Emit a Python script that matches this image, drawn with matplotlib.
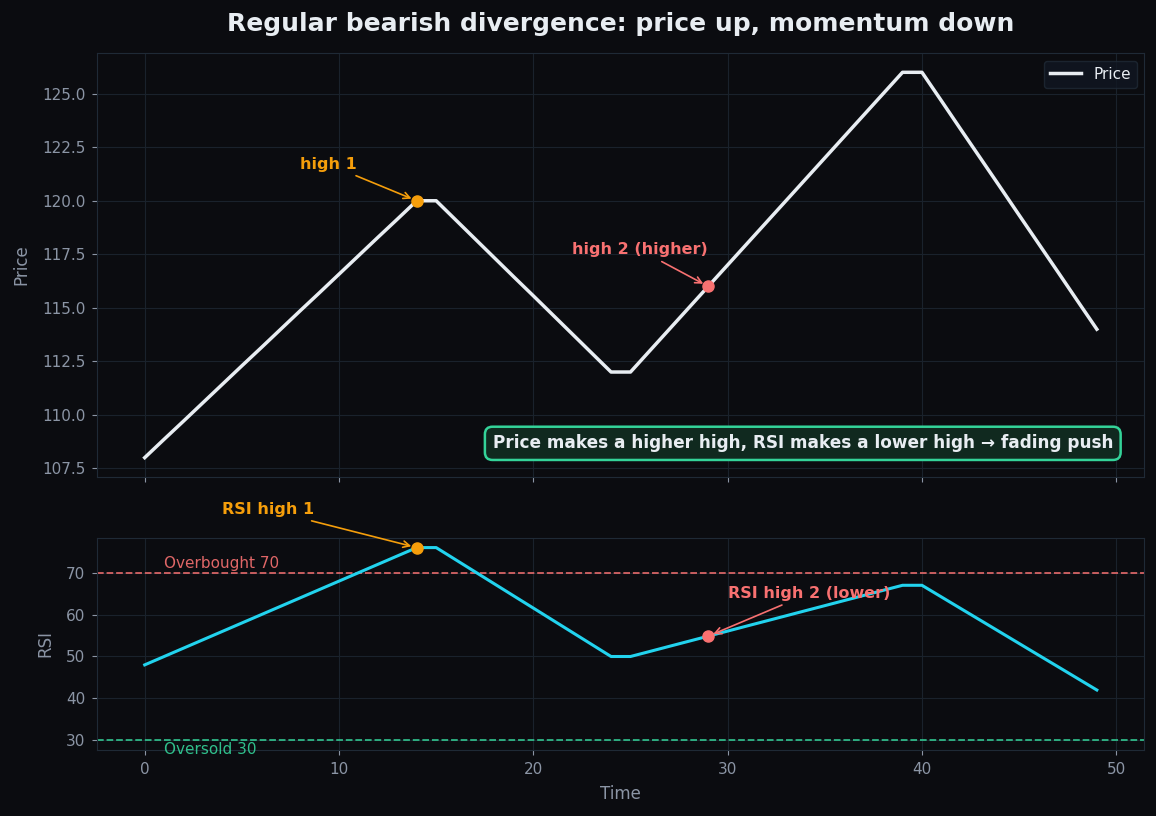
import numpy as np
import matplotlib
matplotlib.use("Agg")
from matplotlib import pyplot as plt

# data
time = list(range(50))
price = [108, 108.86, 109.71, 110.57, 111.43, 112.29, 113.14, 114, 114.86, 115.71,
         116.57, 117.43, 118.29, 119.14, 120, 120, 119.11, 118.22, 117.33, 116.44,
         115.56, 114.67, 113.78, 112.89, 112, 112, 113, 114, 115, 116,
         117, 118, 119, 120, 121, 122, 123, 124, 125, 126,
         126, 124.67, 123.33, 122, 120.67, 119.33, 118, 116.67, 115.33, 114]
rsi = [48, 50, 52, 54, 56, 58, 60, 62, 64, 66,
       68, 70, 72, 74, 76, 76, 73.11, 70.22, 67.33, 64.44,
       61.56, 58.67, 55.78, 52.89, 50, 50, 51.21, 52.43, 53.64, 54.86,
       56.07, 57.29, 58.5, 59.71, 60.93, 62.14, 63.36, 64.57, 65.79, 67,
       67, 64.22, 61.44, 58.67, 55.89, 53.11, 50.33, 47.56, 44.78, 42]
high1_idx = 14
high2_idx = 29
overbought = 70
oversold = 30

BG = "#0b0c10"
GRID = "#1a222c"
SPINE = "#1f2a36"
TXT = "#8b95a5"
WHITE = "#e8edf2"
ORANGE = "#f59e0b"
RED = "#f87171"
GREEN = "#34d399"
CYAN = "#22d3ee"

fig, (ax1, ax2) = plt.subplots(2, 1, figsize=(11.56, 8.16), dpi=100, sharex=True,
                               gridspec_kw={"height_ratios": [2, 1], "hspace": 0.192})
fig.patch.set_facecolor(BG)
fig.subplots_adjust(left=0.084, right=0.99, top=0.935, bottom=0.081)

for ax in (ax1, ax2):
    ax.set_facecolor(BG)
    ax.grid(True, color=GRID, linewidth=0.8)
    ax.set_axisbelow(True)
    for s in ax.spines.values():
        s.set_color(SPINE)
    ax.tick_params(colors=TXT, labelsize=11, pad=5)

# price panel
ax1.plot(time, price, color=WHITE, linewidth=2.5, label="Price", zorder=3)
ax1.plot(time[high1_idx], price[high1_idx], "o", color=ORANGE, markersize=8, zorder=4)
ax1.plot(time[high2_idx], price[high2_idx], "o", color=RED, markersize=8, zorder=4)
ax1.annotate("high 1", xy=(time[high1_idx], price[high1_idx]), xytext=(8, 121.7),
             color=ORANGE, fontsize=11.5, fontweight="bold", va="center",
             arrowprops=dict(arrowstyle="->", color=ORANGE, lw=1.2, shrinkB=4))
ax1.annotate("high 2 (higher)", xy=(time[high2_idx], price[high2_idx]), xytext=(22, 117.7),
             color=RED, fontsize=11.5, fontweight="bold", va="center",
             arrowprops=dict(arrowstyle="->", color=RED, lw=1.2, shrinkB=4))
ax1.set_ylabel("Price", color=TXT, fontsize=12, labelpad=8)
ax1.set_title("Regular bearish divergence: price up, momentum down",
              color=WHITE, fontsize=18, fontweight="bold", pad=16)
leg = ax1.legend(loc="upper right", facecolor="#111722", edgecolor=SPINE, fontsize=11)
for t in leg.get_texts():
    t.set_color(WHITE)
ax1.text(0.97, 0.058, "Price makes a higher high, RSI makes a lower high \u2192 fading push",
         transform=ax1.transAxes, ha="right", va="bottom", color=WHITE,
         fontsize=12.2, fontweight="bold",
         bbox=dict(boxstyle="round,pad=0.45", facecolor="#10291f", edgecolor=GREEN, linewidth=1.8))

# rsi panel
ax2.plot(time, rsi, color=CYAN, linewidth=2.2, zorder=3)
ax2.axhline(overbought, color=RED, linestyle="--", linewidth=1.3, alpha=0.85)
ax2.axhline(oversold, color=GREEN, linestyle="--", linewidth=1.3, alpha=0.85)
ax2.text(1, overbought + 0.3, "Overbought 70", color=RED, fontsize=11, alpha=0.9, va="bottom")
ax2.text(1, oversold - 0.3, "Oversold 30", color=GREEN, fontsize=11, alpha=0.9, va="top")
ax2.plot(time[high1_idx], rsi[high1_idx], "o", color=ORANGE, markersize=8, zorder=4)
ax2.plot(time[high2_idx], rsi[high2_idx], "o", color=RED, markersize=8, zorder=4)
ax2.annotate("RSI high 1", xy=(time[high1_idx], rsi[high1_idx]), xytext=(4, 85),
             color=ORANGE, fontsize=11.5, fontweight="bold", va="center", annotation_clip=False,
             arrowprops=dict(arrowstyle="->", color=ORANGE, lw=1.2, shrinkB=4))
ax2.annotate("RSI high 2 (lower)", xy=(time[high2_idx], rsi[high2_idx]), xytext=(30, 65),
             color=RED, fontsize=11.5, fontweight="bold", va="center",
             arrowprops=dict(arrowstyle="->", color=RED, lw=1.2, shrinkB=4))
ax2.set_ylabel("RSI", color=TXT, fontsize=12, labelpad=8)
ax2.set_xlabel("Time", color=TXT, fontsize=12, labelpad=6)

plt.savefig("out.png", facecolor=BG)
plt.close()
